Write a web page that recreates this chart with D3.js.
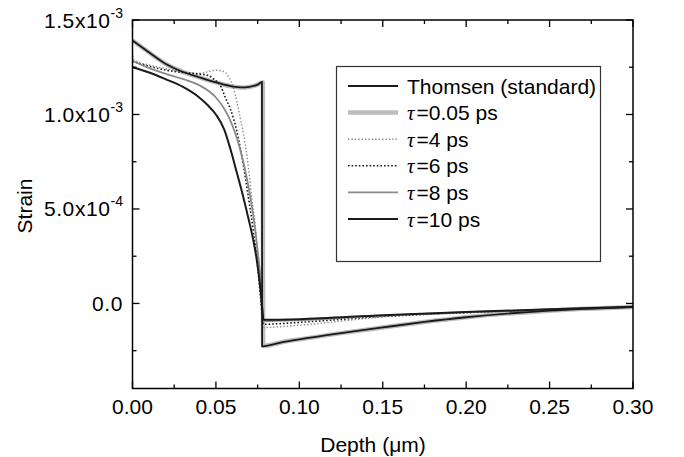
<!DOCTYPE html>
<html lang="en">

<head>
    <meta charset="UTF-8">
    <title>Strain vs Depth</title>
    <script src="https://d3js.org/d3.v7.min.js"></script>
    <style>
        body {
            margin: 0;
            background: #fff;
        }

        text {
            font-family: "Liberation Sans", Arial, sans-serif;
            fill: #000;
        }

        .axis-line {
            fill: none;
            stroke: #000;
            stroke-width: 1.5px;
        }

        .tick-mark {
            stroke: #000;
            stroke-width: 1.3px;
        }

        .tau {
            font-family: "Liberation Serif", "Times New Roman", serif;
            font-style: italic;
        }
    </style>
</head>

<body>
    <script>

        // depth in micrometres, strain in units of 1e-3
        const thomsenDepth = [0, 0.005, 0.01, 0.02, 0.03, 0.04, 0.05, 0.06, 0.065, 0.07, 0.075, 0.0776,
            0.0777, 0.09, 0.10, 0.125, 0.15, 0.175, 0.20, 0.25, 0.30];
        const thomsenStrain = [1.392, 1.36, 1.328, 1.267, 1.226, 1.197, 1.170, 1.148, 1.143, 1.146, 1.158, 1.172,
            -0.227, -0.205, -0.19, -0.157, -0.127, -0.098, -0.073, -0.038, -0.019];

        const tau005Depth = [0, 0.005, 0.01, 0.02, 0.03, 0.04, 0.05, 0.06, 0.065, 0.07, 0.075, 0.0781,
            0.0783, 0.09, 0.10, 0.125, 0.15, 0.175, 0.20, 0.25, 0.30];
        const tau005Strain = [1.392, 1.36, 1.328, 1.267, 1.226, 1.197, 1.170, 1.148, 1.143, 1.146, 1.158, 1.170,
            -0.225, -0.204, -0.19, -0.157, -0.127, -0.098, -0.073, -0.038, -0.019];

        const tau4Depth = [0, 0.001, 0.01, 0.02, 0.03, 0.04, 0.045, 0.05, 0.054, 0.0576, 0.0606, 0.0626,
            0.0646, 0.0665, 0.0695, 0.0716, 0.0735, 0.075, 0.0765, 0.0785, 0.10, 0.15, 0.20, 0.25, 0.30];
        const tau4Strain = [1.33, 1.288, 1.262, 1.242, 1.226, 1.218, 1.226, 1.234, 1.229, 1.20, 1.137, 1.066,
            0.98, 0.90, 0.72, 0.55, 0.42, 0.25, 0.08, -0.127, -0.115, -0.072, -0.05, -0.034, -0.019];

        const tau6Depth = [0, 0.01, 0.02, 0.03, 0.04, 0.045, 0.05, 0.0526, 0.0556, 0.0586, 0.0626,
            0.0665, 0.0695, 0.0725, 0.075, 0.0768, 0.0785, 0.10, 0.15, 0.20, 0.25, 0.30];
        const tau6Strain = [1.28, 1.255, 1.235, 1.222, 1.214, 1.208, 1.178, 1.155, 1.09, 1.03, 0.91,
            0.73, 0.56, 0.38, 0.20, 0.03, -0.11, -0.10, -0.068, -0.048, -0.033, -0.019];

        const tau8Depth = [0, 0.01, 0.02, 0.03, 0.04, 0.05, 0.055, 0.06, 0.065, 0.0686, 0.0725, 0.075,
            0.077, 0.0778, 0.0785, 0.10, 0.15, 0.20, 0.25, 0.30];
        const tau8Strain = [1.285, 1.245, 1.215, 1.188, 1.155, 1.09, 1.03, 0.94, 0.80, 0.66, 0.46, 0.28,
            0.10, -0.02, -0.093, -0.088, -0.064, -0.046, -0.032, -0.018];

        const tau10Depth = [0, 0.01, 0.02, 0.03, 0.04, 0.045, 0.05, 0.055, 0.0586, 0.0626, 0.0665,
            0.0695, 0.0725, 0.0745, 0.0765, 0.0778, 0.0785, 0.10, 0.15, 0.20, 0.25, 0.30];
        const tau10Strain = [1.25, 1.222, 1.186, 1.147, 1.09, 1.05, 1.0, 0.92, 0.82, 0.69, 0.56,
            0.45, 0.33, 0.23, 0.09, -0.03, -0.086, -0.083, -0.062, -0.045, -0.031, -0.018];

        const xTicks = [0, 0.05, 0.10, 0.15, 0.20, 0.25, 0.30];
        const xMinorTicks = [0.025, 0.075, 0.125, 0.175, 0.225, 0.275];
        const yTicks = [0, 0.5, 1.0, 1.5];
        const yMinorTicks = [-0.25, 0.25, 0.75, 1.25];
        const yTickMantissa = ["0.0", "5.0x10", "1.0x10", "1.5x10"];
        const yTickExponent = ["", "-4", "-3", "-3"];

        const seriesNames = ["Thomsen (standard)", "0.05 ps", "4 ps", "6 ps", "8 ps", "10 ps"];

        const series = [
            { name: seriesNames[0], x: thomsenDepth, y: thomsenStrain, color: "#1a1a1a", width: 1.8, dash: null, tau: false },
            { name: seriesNames[1], x: tau005Depth, y: tau005Strain, color: "#bdbdbd", width: 4.5, dash: null, tau: true },
            { name: seriesNames[2], x: tau4Depth, y: tau4Strain, color: "#8a8a8a", width: 1.4, dash: "1.4,2", tau: true },
            { name: seriesNames[3], x: tau6Depth, y: tau6Strain, color: "#1a1a1a", width: 1.6, dash: "1.6,2", tau: true },
            { name: seriesNames[4], x: tau8Depth, y: tau8Strain, color: "#8a8a8a", width: 1.8, dash: null, tau: true },
            { name: seriesNames[5], x: tau10Depth, y: tau10Strain, color: "#1a1a1a", width: 2, dash: null, tau: true }
        ];

        // draw thick gray first so the black Thomsen line sits on top of it
        const drawOrder = [1, 2, 3, 4, 5, 0];

        const width = 684, height = 457;
        const plot = { left: 132.5, right: 633, top: 20, bottom: 388.5 };
        const fontSize = "21px";

        const svg = d3.select("body").append("svg")
            .attr("width", width)
            .attr("height", height);

        const x = d3.scaleLinear().domain([0, 0.30]).range([plot.left, plot.right]);
        const y = d3.scaleLinear().domain([-0.45, 1.5]).range([plot.bottom, plot.top]);

        svg.append("clipPath").attr("id", "clip")
            .append("rect")
            .attr("x", plot.left).attr("y", plot.top)
            .attr("width", plot.right - plot.left)
            .attr("height", plot.bottom - plot.top);

        const line = d3.line()
            .x(d => x(d[0]))
            .y(d => y(d[1]))
            .curve(d3.curveMonotoneX);

        const lines = svg.append("g").attr("clip-path", "url(#clip)");

        drawOrder.forEach(i => {
            const s = series[i];
            const pts = s.x.map((v, k) => [v, s.y[k]]);
            lines.append("path")
                .attr("d", line(pts))
                .attr("fill", "none")
                .attr("stroke", s.color)
                .attr("stroke-width", s.width)
                .attr("stroke-dasharray", s.dash)
                .attr("stroke-linejoin", "round");
        });

        // frame
        svg.append("rect")
            .attr("class", "axis-line")
            .attr("x", plot.left).attr("y", plot.top)
            .attr("width", plot.right - plot.left)
            .attr("height", plot.bottom - plot.top);

        // ticks pointing inward on all four sides
        const ticks = svg.append("g");
        xTicks.forEach(t => {
            ticks.append("line").attr("class", "tick-mark")
                .attr("x1", x(t)).attr("x2", x(t))
                .attr("y1", plot.bottom).attr("y2", plot.bottom - 7);
            ticks.append("line").attr("class", "tick-mark")
                .attr("x1", x(t)).attr("x2", x(t))
                .attr("y1", plot.top).attr("y2", plot.top + 7);
        });
        xMinorTicks.forEach(t => {
            ticks.append("line").attr("class", "tick-mark")
                .attr("x1", x(t)).attr("x2", x(t))
                .attr("y1", plot.bottom).attr("y2", plot.bottom - 4);
            ticks.append("line").attr("class", "tick-mark")
                .attr("x1", x(t)).attr("x2", x(t))
                .attr("y1", plot.top).attr("y2", plot.top + 4);
        });
        yTicks.forEach(t => {
            ticks.append("line").attr("class", "tick-mark")
                .attr("x1", plot.left).attr("x2", plot.left + 7)
                .attr("y1", y(t)).attr("y2", y(t));
            ticks.append("line").attr("class", "tick-mark")
                .attr("x1", plot.right).attr("x2", plot.right - 7)
                .attr("y1", y(t)).attr("y2", y(t));
        });
        yMinorTicks.forEach(t => {
            ticks.append("line").attr("class", "tick-mark")
                .attr("x1", plot.left).attr("x2", plot.left + 4)
                .attr("y1", y(t)).attr("y2", y(t));
            ticks.append("line").attr("class", "tick-mark")
                .attr("x1", plot.right).attr("x2", plot.right - 4)
                .attr("y1", y(t)).attr("y2", y(t));
        });

        // x tick labels
        svg.append("g").selectAll("text")
            .data(xTicks)
            .enter().append("text")
            .attr("x", d => x(d))
            .attr("y", 414)
            .attr("text-anchor", "middle")
            .style("font-size", fontSize)
            .text(d => d3.format(".2f")(d));

        // y tick labels with superscript exponents
        yTicks.forEach((t, i) => {
            const lab = svg.append("text")
                .attr("x", 123)
                .attr("y", y(t) + 7.5)
                .attr("text-anchor", "end")
                .style("font-size", fontSize)
                .style("letter-spacing", "0.6px");
            lab.append("tspan").text(yTickMantissa[i]);
            if (yTickExponent[i]) {
                lab.append("tspan")
                    .attr("dy", -10)
                    .style("font-size", "14px")
                    .style("letter-spacing", "0px")
                    .text(yTickExponent[i]);
            }
        });

        // axis titles
        svg.append("text")
            .attr("x", 373)
            .attr("y", 452)
            .attr("text-anchor", "middle")
            .style("font-size", fontSize)
            .text("Depth (\u03bcm)");

        svg.append("text")
            .attr("transform", "translate(32," + 206 + ") rotate(-90)")
            .attr("text-anchor", "middle")
            .style("font-size", fontSize)
            .text("Strain");

        // legend
        const legend = svg.append("g");
        legend.append("rect")
            .attr("x", 336.5).attr("y", 66.5)
            .attr("width", 264).attr("height", 195)
            .attr("fill", "#fff")
            .attr("stroke", "#333")
            .attr("stroke-width", 1.2);

        series.forEach((s, i) => {
            const cy = 86 + i * 26.6;
            legend.append("line")
                .attr("x1", 348).attr("x2", 398)
                .attr("y1", cy).attr("y2", cy)
                .attr("stroke", s.color)
                .attr("stroke-width", s.width)
                .attr("stroke-dasharray", s.dash);
            const t = legend.append("text")
                .attr("x", 407)
                .attr("y", cy + 7.5)
                .style("font-size", fontSize);
            if (s.tau) {
                t.append("tspan").attr("class", "tau").text("\u03c4");
                t.append("tspan").attr("dx", 2).text("=" + s.name);
            } else {
                t.text(s.name);
            }
        });

    </script>

</body>

</html>
